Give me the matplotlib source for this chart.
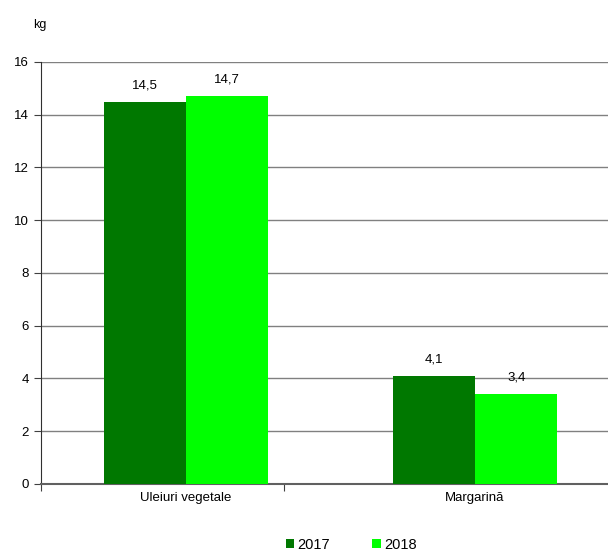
import matplotlib.pyplot as plt
import numpy as np

plt.rcParams['font.family'] = ['Liberation Sans', 'DejaVu Sans']

categories = ['Uleiuri vegetale', 'Margarină']
years = ['2017', '2018']
values_2017 = [14.5, 4.1]
values_2018 = [14.7, 3.4]
colors = ['#007800', '#00FF00']

fig = plt.figure(figsize=(6.08, 5.51), dpi=100)
ax = fig.add_axes([0.0674, 0.1216, 0.9326, 0.7659])

x = np.arange(len(categories))
w = 0.285
ax.bar(x - w / 2, values_2017, w, color=colors[0], label=years[0], zorder=3)
ax.bar(x + w / 2, values_2018, w, color=colors[1], label=years[1], zorder=3)

for xi, v in zip(x - w / 2, values_2017):
    ax.text(xi, v + 0.4, f'{v:.1f}'.replace('.', ','), ha='center', va='bottom', fontsize=9.5)
for xi, v in zip(x + w / 2, values_2018):
    ax.text(xi, v + 0.4, f'{v:.1f}'.replace('.', ','), ha='center', va='bottom', fontsize=9.5)

ax.set_xlim(-0.502, 1.46)
ax.set_ylim(0, 16)
ax.set_yticks(range(0, 17, 2))
ax.yaxis.grid(True, color='#808080', linewidth=1, zorder=0)
ax.set_xticks([-0.502, 0.339])
ax.set_xticklabels(['', ''])
ax.set_xticks(x, minor=True)
ax.set_xticklabels(categories, minor=True, fontsize=9.5)
ax.tick_params(axis='x', which='minor', length=0, pad=6)
ax.tick_params(axis='x', which='major', length=5, color='#404040')
ax.tick_params(axis='y', labelsize=9.5, length=5, color='#404040')

for s in ['top', 'right']:
    ax.spines[s].set_visible(False)
ax.spines['left'].set_color('#303030')
ax.spines['bottom'].set_color('#606060')
ax.spines['bottom'].set_linewidth(1.5)

fig.text(0.066, 0.955, 'kg', fontsize=9, ha='center', va='center')

ax.legend(loc='center', bbox_to_anchor=(0.547, -0.144), ncol=2, frameon=False,
          fontsize=10.5, handlelength=0.6, handleheight=0.6, handletextpad=0.2, columnspacing=2.9)

fig.savefig('out.png', dpi=100)
